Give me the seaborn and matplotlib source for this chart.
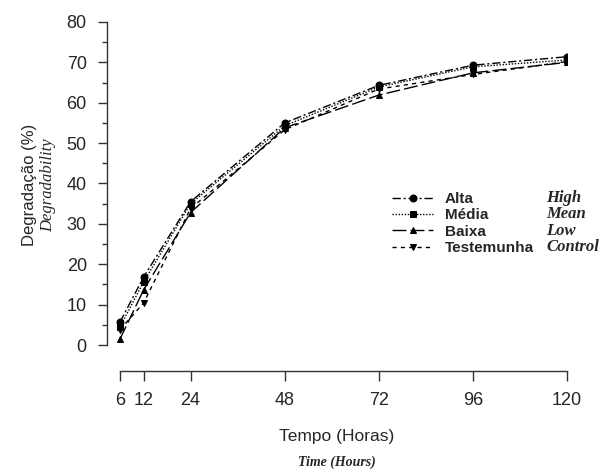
import pandas as pd
import numpy as np
import matplotlib
matplotlib.use("Agg")
import matplotlib.pyplot as plt
from matplotlib.ticker import MultipleLocator
import seaborn as sns

sns.set_style("ticks")
plt.rcParams['font.family'] = ['Liberation Sans', 'DejaVu Sans']

# data
horas = [6, 12, 24, 48, 72, 96, 120]
alta = [5.7, 16.8, 35.5, 55.0, 64.3, 69.3, 71.4]
media = [4.5, 15.6, 35.0, 54.3, 63.9, 68.9, 70.6]
baixa = [1.5, 13.6, 32.8, 53.8, 61.9, 67.4, 70.0]
testemunha = [3.8, 10.4, 33.8, 53.3, 63.4, 67.0, 70.2]

grupos = ['Alta', 'Média', 'Baixa', 'Testemunha']
ingles = ['High', 'Mean', 'Low', 'Control']
xticks = [6, 12, 24, 48, 72, 96, 120]

df = pd.DataFrame({
    'Tempo': horas * 4,
    'Degradacao': alta + media + baixa + testemunha,
    'Grupo': [g for g in grupos for _ in horas],
})

estilos = {'Alta': (6, 2, 1.5, 2), 'Média': (1, 1.2), 'Baixa': (10, 3),
           'Testemunha': (3, 3)}
marcadores = {'Alta': 'o', 'Média': 's', 'Baixa': '^', 'Testemunha': 'v'}

fig = plt.figure(figsize=(6.11, 4.71), dpi=100)
ax = fig.add_axes([107/611, 1-345/471, (567-107)/611, (345-22)/471])

sns.lineplot(data=df, x='Tempo', y='Degradacao', style='Grupo',
             hue='Grupo', palette=['black']*4, dashes=estilos,
             markers=marcadores, markersize=5, linewidth=1,
             markeredgecolor='black', ax=ax)

ax.set_xlim(6 - 13/3.92, 120)
ax.set_ylim(0, 80)
ax.set_xticks(xticks)
ax.yaxis.set_major_locator(MultipleLocator(10))
ax.yaxis.set_minor_locator(MultipleLocator(5))
ax.tick_params(axis='both', which='major', length=7, width=1, labelsize=13,
               color='#333333', direction='out')
ax.tick_params(axis='y', which='major', length=6.5, pad=8)
ax.tick_params(axis='y', which='minor', length=3.3, width=1, color='#333333')
for s in ['top', 'right']:
    ax.spines[s].set_visible(False)
ax.spines['bottom'].set_position(('outward', 19))
ax.spines['bottom'].set_bounds(6, 120)
ax.spines['left'].set_bounds(0, 80)
for s in ['bottom', 'left']:
    ax.spines[s].set_color('#333333')
    ax.spines[s].set_linewidth(1)
ax.tick_params(axis='x', pad=8)

ax.set_xlabel('')
ax.set_ylabel('')
fig.text(30/611, 1-185/471, 'Degradação (%)', rotation=90, fontsize=12,
         ha='center', va='center')
fig.text(48/611, 1-185/471, 'Degradability', rotation=90, fontsize=12,
         style='italic', family='Liberation Serif', ha='center', va='center')
fig.text(337/611, 1-437/471, 'Tempo (Horas)', fontsize=12.5, ha='center',
         va='center')
fig.text(337/611, 1-462/471, 'Time (Hours)', fontsize=10, style='italic',
         weight='bold', family='Liberation Serif', ha='center', va='center')

handles, labels = ax.get_legend_handles_labels()
leg = ax.legend(handles, labels, loc='upper left',
                bbox_to_anchor=((392-107)/460, (345-192)/323),
                frameon=False, handlelength=2.7, handletextpad=0.75,
                borderpad=0, borderaxespad=0,
                labelspacing=0.15, prop={'weight': 'bold', 'size': 11})
for i, t in enumerate(ingles):
    fig.text(546/611, 1-(198 + i*16.3)/471, t, fontsize=12, style='italic',
             weight='bold', family='Liberation Serif', va='center')

fig.savefig('out.png', dpi=100)
